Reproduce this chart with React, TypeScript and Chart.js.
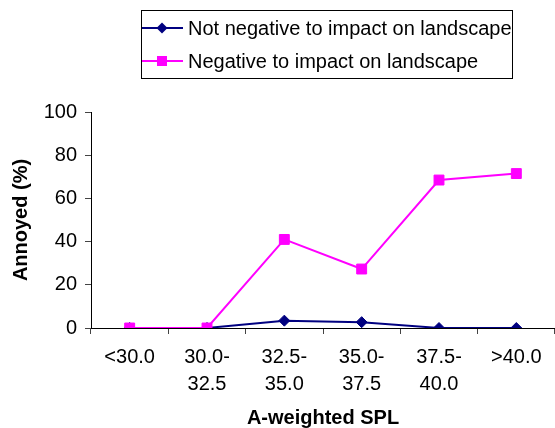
import React, { useEffect, useRef } from "react";
import { Chart, registerables } from "chart.js";

Chart.register(...registerables);

const categories: string[][] = [
  ["<30.0"],
  ["30.0-", "32.5"],
  ["32.5-", "35.0"],
  ["35.0-", "37.5"],
  ["37.5-", "40.0"],
  [">40.0"],
];
const notNegative = [0, 0, 3.4, 2.7, 0, 0];
const negative = [0, 0, 41, 27.3, 68.5, 71.5];
const seriesNames = ["Not negative to impact on landscape", "Negative to impact on landscape"];
const seriesColors = ["#000080", "#FF00FF"];
const yAxisTitle = "Annoyed (%)";
const xAxisTitle = "A-weighted SPL";

const FONT = '"Liberation Sans", Arial, sans-serif';

const legendPlugin = {
  id: "boxLegend",
  afterDraw(chart: any) {
    const ctx = chart.ctx as CanvasRenderingContext2D;
    ctx.save();
    const bx = 141.5, by = 10.5, bw = 371, bh = 68;
    ctx.strokeStyle = "#000";
    ctx.lineWidth = 1;
    ctx.strokeRect(bx, by, bw, bh);
    const rows = [28, 61];
    ctx.font = `20px ${FONT}`;
    ctx.textBaseline = "middle";
    ctx.textAlign = "left";
    rows.forEach((y, i) => {
      const c = seriesColors[i];
      ctx.strokeStyle = c;
      ctx.lineWidth = 2;
      ctx.beginPath();
      ctx.moveTo(142, y);
      ctx.lineTo(183, y);
      ctx.stroke();
      ctx.fillStyle = c;
      ctx.beginPath();
      if (i === 0) {
        const r = 5.5;
        ctx.moveTo(162 - r, y);
        ctx.lineTo(162, y - r);
        ctx.lineTo(162 + r, y);
        ctx.lineTo(162, y + r);
        ctx.closePath();
      } else {
        ctx.rect(157, y - 5, 10, 10);
      }
      ctx.fill();
      ctx.fillStyle = "#000";
      ctx.fillText(seriesNames[i], 188, y + 1);
    });
    ctx.restore();
  },
};

export default function App() {
  const ref = useRef<HTMLCanvasElement | null>(null);
  useEffect(() => {
    document.body.style.margin = "0";
    Chart.defaults.color = "#000";
    Chart.defaults.font.family = FONT;
    const chart = new Chart(ref.current as HTMLCanvasElement, {
      type: "line",
      data: {
        labels: categories as any,
        datasets: [
          {
            label: seriesNames[0],
            data: notNegative,
            borderColor: seriesColors[0],
            backgroundColor: seriesColors[0],
            borderWidth: 2,
            pointStyle: "rectRot",
            pointRadius: 5.5,
            pointBorderWidth: 1,
            tension: 0,
            order: 2,
          },
          {
            label: seriesNames[1],
            data: negative,
            borderColor: seriesColors[1],
            backgroundColor: seriesColors[1],
            borderWidth: 2,
            pointStyle: "rect",
            pointRadius: 7,
            pointBorderWidth: 1,
            tension: 0,
            order: 1,
          },
        ],
      },
      options: {
        animation: false,
        responsive: false,
        layout: { autoPadding: false, padding: { top: 112, right: 0, bottom: 0, left: 0 } },
        plugins: { legend: { display: false }, tooltip: { enabled: false } },
        scales: {
          x: {
            offset: true,
            grid: { offset: true, drawOnChartArea: false, drawTicks: true, tickLength: 6, color: "#444" },
            border: { color: "#000", width: 1 },
            ticks: { font: { size: 20, lineHeight: 1.35 }, padding: 10, maxRotation: 0, autoSkip: false },
            title: { display: true, text: xAxisTitle, font: { size: 20, weight: "bold", lineHeight: 1.0 }, padding: { top: 0, bottom: 0 } },
            afterFit: (s: any) => { s.height = 100; s.paddingLeft = 0; s.paddingRight = 0; },
          },
          y: {
            min: 0,
            max: 100,
            grid: { drawOnChartArea: false, drawTicks: true, tickLength: 6, color: "#444" },
            border: { color: "#000", width: 1 },
            ticks: { stepSize: 20, font: { size: 20 }, padding: 8 },
            title: { display: true, text: yAxisTitle, font: { size: 20, weight: "bold", lineHeight: 1.0 }, padding: { top: 11, bottom: 0 } },
            afterFit: (s: any) => { s.width = 91; s.paddingTop = 0; s.paddingBottom = 0; },
          },
        },
      },
      plugins: [legendPlugin],
    });
    return () => chart.destroy();
  }, []);
  return (
    <div style={{ position: "fixed", left: 0, top: 0, width: 555, height: 428 }}>
      <canvas ref={ref} width={555} height={428} />
    </div>
  );
}
